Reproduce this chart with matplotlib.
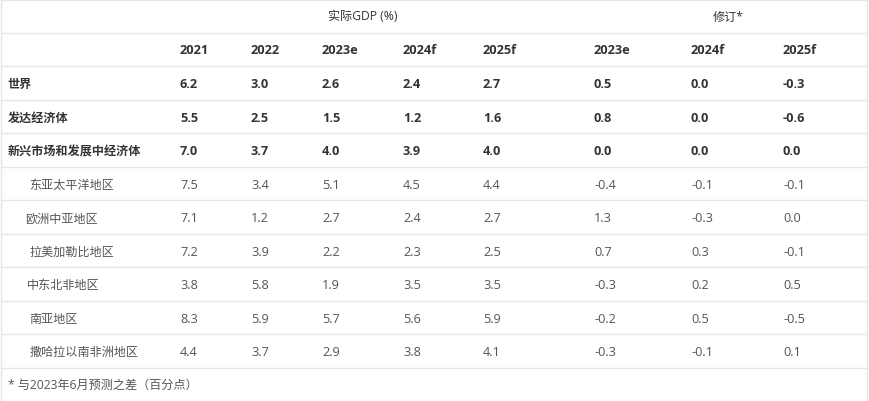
import matplotlib
matplotlib.use("Agg")
import matplotlib.pyplot as plt

plt.rcParams['font.family'] = ['Open Sans', 'Noto Sans CJK SC', 'DejaVu Sans']

group_titles = ["实际GDP (%)", "修订*"]
col_labels = ["2021", "2022", "2023e", "2024f", "2025f", "2023e", "2024f", "2025f"]
row_labels = ["世界", "发达经济体", "新兴市场和发展中经济体",
              "东亚太平洋地区", "欧洲中亚地区", "拉美加勒比地区",
              "中东北非地区", "南亚地区", "撒哈拉以南非洲地区"]
gdp_2021 = [6.2, 5.5, 7.0, 7.5, 7.1, 7.2, 3.8, 8.3, 4.4]
gdp_2022 = [3.0, 2.5, 3.7, 3.4, 1.2, 3.9, 5.8, 5.9, 3.7]
gdp_2023e = [2.6, 1.5, 4.0, 5.1, 2.7, 2.2, 1.9, 5.7, 2.9]
gdp_2024f = [2.4, 1.2, 3.9, 4.5, 2.4, 2.3, 3.5, 5.6, 3.8]
gdp_2025f = [2.7, 1.6, 4.0, 4.4, 2.7, 2.5, 3.5, 5.9, 4.1]
rev_2023e = [0.5, 0.8, 0.0, -0.4, 1.3, 0.7, -0.3, -0.2, -0.3]
rev_2024f = [0.0, 0.0, 0.0, -0.1, -0.3, 0.3, 0.2, 0.5, -0.1]
rev_2025f = [-0.3, -0.6, 0.0, -0.1, 0.0, -0.1, 0.5, -0.5, 0.1]
bold_rows = [True, True, True, False, False, False, False, False, False]
footnote = "* 与2023年6月预测之差（百分点）"

W, H = 870, 402
fig = plt.figure(figsize=(W / 100, H / 100), dpi=100)
ax = fig.add_axes([0, 0, 1, 1])
ax.set_xlim(0, W)
ax.set_ylim(H, 0)
ax.axis('off')

line_c = '#e6e6e6'
row_h = 33.5
hlines = [0.5] + [33.5 + i * row_h for i in range(11)]
for y in hlines:
    ax.plot([1, 867], [y, y], color=line_c, lw=1.0)
ax.plot([1, 1], [0, H], color=line_c, lw=1.0)
ax.plot([867, 867], [0, H], color=line_c, lw=1.0)

fs = 8.7
fs_num = 9.2
dark = '#333333'
reg = '#555555'

ax.text(363, 17, group_titles[0], ha='center', va='center', fontsize=fs,
        color=dark, fontweight='medium')
ax.text(728, 17, group_titles[1], ha='center', va='center', fontsize=fs,
        color=dark, fontweight='medium')

col_x = [180, 251, 322, 403, 483, 594, 691, 783]
for x, lab in zip(col_x, col_labels):
    ax.text(x, 51, lab, ha='left', va='center', fontsize=fs_num, color=dark,
            fontweight='bold')

label_x = [8, 8, 8, 29, 25, 30, 27, 29, 30]
series = [gdp_2021, gdp_2022, gdp_2023e, gdp_2024f, gdp_2025f,
          rev_2023e, rev_2024f, rev_2025f]
for i, lab in enumerate(row_labels):
    yc = 33.5 + row_h * (i + 1.5) + 1
    b = bold_rows[i]
    c = dark if b else reg
    w = 'bold' if b else 'normal'
    ax.text(label_x[i], yc, lab, ha='left', va='center', fontsize=fs,
            color=c, fontweight=w)
    for x, s in zip(col_x, series):
        ax.text(x, yc, f"{s[i]:.1f}", ha='left', va='center', fontsize=fs_num,
                color=c, fontweight=w)

ax.text(8, 385, footnote, ha='left', va='center', fontsize=fs, color=reg)

fig.savefig('out.png', dpi=100)
